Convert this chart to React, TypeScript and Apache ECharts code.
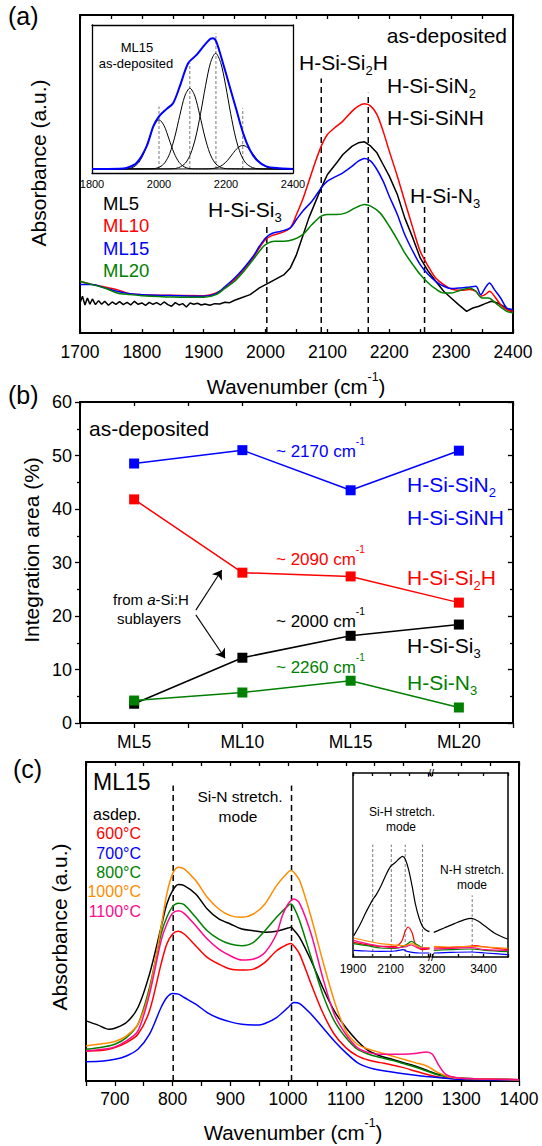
import React, { useEffect, useRef } from 'react';
import * as echarts from 'echarts';

const FONT = '"Liberation Sans", Arial, Helvetica, sans-serif';

// ---------------- Panel (a): as-deposited Si-H stretching spectra ----------------
const aML5: [number, number][] = [
  [1700, 0.90], [1704, 1.10], [1708, 0.84], [1712, 1.05], [1716, 0.86], [1720, 1.02], [1725, 0.85], [1730, 0.97],
  [1735, 0.86], [1740, 0.95], [1746, 0.83], [1752, 0.93], [1758, 0.86], [1764, 0.94], [1770, 0.85], [1776, 0.92],
  [1782, 0.84], [1788, 0.95], [1794, 0.86], [1800, 0.90], [1806, 0.83], [1812, 0.92], [1818, 0.86], [1824, 0.91],
  [1830, 0.84], [1836, 0.93], [1842, 0.85], [1848, 0.80], [1854, 0.91], [1860, 0.84], [1866, 0.88], [1872, 0.78],
  [1878, 0.90], [1884, 0.86], [1890, 0.89], [1896, 0.84], [1902, 0.87], [1910, 0.83], [1918, 0.88], [1926, 0.87],
  [1934, 0.92], [1942, 0.91], [1950, 0.98], [1960, 1.05], [1975, 1.15], [1990, 1.35], [2000, 1.45], [2015, 1.60],
  [2030, 1.75], [2040, 1.95], [2050, 2.35], [2060, 2.90], [2070, 3.45], [2080, 3.90], [2090, 4.35], [2100, 4.75],
  [2115, 5.10], [2125, 5.35], [2140, 5.60], [2150, 5.70], [2160, 5.73], [2170, 5.60], [2180, 5.40], [2190, 5.05],
  [2200, 4.70], [2213, 4.15], [2225, 3.45], [2238, 2.85], [2250, 2.25], [2263, 1.85], [2275, 1.55], [2288, 1.25],
  [2300, 1.05], [2312, 0.85], [2325, 0.65], [2335, 0.75], [2345, 0.80], [2355, 0.88], [2365, 0.95], [2375, 0.90],
  [2385, 0.80], [2393, 0.68], [2400, 0.63],
];
const aML10: [number, number][] = [
  [1700, 1.55], [1720, 1.45], [1740, 1.38], [1760, 1.30], [1780, 1.18], [1800, 1.15], [1850, 1.13], [1900, 1.12],
  [1920, 1.20], [1935, 1.35], [1950, 1.60], [1965, 1.90], [1980, 2.25], [1990, 2.55], [2000, 2.80], [2010, 2.92],
  [2025, 3.00], [2040, 3.15], [2050, 3.55], [2060, 4.00], [2070, 4.55], [2080, 5.10], [2090, 5.60], [2100, 5.95],
  [2115, 6.20], [2125, 6.35], [2140, 6.65], [2150, 6.80], [2160, 6.87], [2170, 6.80], [2180, 6.55], [2190, 6.05],
  [2200, 5.45], [2213, 4.70], [2225, 3.95], [2238, 3.15], [2250, 2.45], [2263, 2.00], [2275, 1.65], [2288, 1.45],
  [2300, 1.32], [2315, 1.28], [2330, 1.30], [2340, 1.25], [2347, 1.10], [2355, 1.15], [2362, 1.25], [2370, 1.10],
  [2380, 0.85], [2390, 0.70], [2400, 0.65],
];
const aML15: [number, number][] = [
  [1700, 1.45], [1720, 1.45], [1740, 1.35], [1760, 1.25], [1780, 1.18], [1800, 1.15], [1850, 1.12], [1900, 1.10],
  [1920, 1.18], [1935, 1.40], [1950, 1.65], [1965, 1.95], [1980, 2.30], [1990, 2.60], [2000, 2.85], [2010, 2.98],
  [2025, 3.05], [2040, 3.15], [2050, 3.40], [2060, 3.65], [2075, 3.95], [2090, 4.35], [2100, 4.55], [2115, 4.70],
  [2125, 4.80], [2140, 5.00], [2150, 5.15], [2160, 5.23], [2170, 5.15], [2180, 4.90], [2190, 4.55], [2200, 4.10],
  [2213, 3.55], [2225, 2.95], [2238, 2.45], [2250, 2.05], [2263, 1.75], [2275, 1.55], [2288, 1.40], [2300, 1.33],
  [2315, 1.35], [2330, 1.38], [2340, 1.40], [2348, 1.15], [2355, 1.35], [2362, 1.50], [2370, 1.30], [2380, 1.05],
  [2390, 0.75], [2400, 0.70],
];
const aML20: [number, number][] = [
  [1700, 1.55], [1720, 1.45], [1740, 1.35], [1760, 1.20], [1780, 1.15], [1800, 1.12], [1850, 1.08], [1900, 1.07],
  [1920, 1.15], [1935, 1.35], [1950, 1.55], [1965, 1.85], [1980, 2.20], [1990, 2.45], [2000, 2.65], [2015, 2.75],
  [2030, 2.75], [2045, 2.80], [2060, 2.95], [2075, 3.25], [2090, 3.50], [2100, 3.55], [2115, 3.55], [2130, 3.60],
  [2145, 3.75], [2160, 3.85], [2170, 3.80], [2185, 3.60], [2200, 3.20], [2213, 2.80], [2225, 2.40], [2238, 2.05],
  [2250, 1.75], [2263, 1.50], [2275, 1.32], [2288, 1.20], [2300, 1.20], [2315, 1.28], [2330, 1.35], [2340, 1.25],
  [2350, 1.05], [2360, 1.05], [2375, 0.85], [2390, 0.65], [2400, 0.60],
];
const aPeakPos = [2002, 2090, 2166, 2257];
const aPeakTop = [3.27, 7.63, 7.2, 3.85];

// Inset of (a): ML15 fit
const iaTotal: [number, number][] = [
  [1800, 0], [1880, 0.02], [1903, 0.1], [1933, 0.6], [1963, 2.27], [1983, 4.27], [2000, 5.27], [2022, 6.0],
  [2042, 6.6], [2062, 8.27], [2087, 10.6], [2112, 11.43], [2132, 12.27], [2152, 13.0], [2161, 13.1], [2171, 12.77],
  [2191, 10.6], [2211, 8.27], [2231, 5.93], [2251, 3.6], [2271, 1.93], [2291, 0.93], [2320, 0.27], [2360, 0.07], [2400, 0],
];
const iaG1: [number, number][] = [
  [1800, 0], [1890, 0.01], [1910, 0.05], [1925, 0.22], [1940, 0.67], [1955, 1.60], [1970, 2.99], [1985, 4.35],
  [2000, 4.93], [2015, 4.35], [2030, 2.99], [2045, 1.60], [2060, 0.67], [2075, 0.22], [2090, 0.05], [2110, 0.01], [2400, 0],
];
const iaG2: [number, number][] = [
  [1800, 0], [1982, 0.03], [2002, 0.20], [2017, 0.61], [2032, 1.55], [2047, 3.20], [2062, 5.36], [2077, 7.31],
  [2092, 8.10], [2107, 7.31], [2122, 5.36], [2137, 3.20], [2152, 1.55], [2167, 0.61], [2182, 0.20], [2202, 0.03], [2400, 0],
];
const iaG3: [number, number][] = [
  [1800, 0], [2039, 0.02], [2059, 0.14], [2079, 0.60], [2094, 1.49], [2109, 3.11], [2124, 5.54], [2139, 8.35],
  [2154, 10.68], [2169, 11.6], [2184, 10.68], [2199, 8.35], [2214, 5.54], [2229, 3.11], [2244, 1.49], [2259, 0.60],
  [2279, 0.14], [2299, 0.02], [2400, 0],
];
const iaG4: [number, number][] = [
  [1800, 0], [2140, 0.01], [2160, 0.05], [2175, 0.15], [2190, 0.41], [2205, 0.88], [2220, 1.53], [2235, 2.12],
  [2250, 2.37], [2265, 2.12], [2280, 1.53], [2295, 0.88], [2310, 0.41], [2325, 0.15], [2340, 0.05], [2360, 0.01], [2400, 0],
];
const iaPeakPos = [2000, 2092, 2170, 2250];
const iaPeakTop = [6.27, 10.6, 13.6, 6.07];

// ---------------- Panel (b): integration areas ----------------
const bCats = ['ML5', 'ML10', 'ML15', 'ML20'];
const bPos = [1, 2, 3, 4];
const b2170 = [48.5, 51.0, 43.5, 50.9];
const b2090 = [41.8, 28.1, 27.4, 22.5];
const b2000 = [3.6, 12.2, 16.3, 18.4];
const b2260 = [4.2, 5.7, 7.9, 2.9];
const bArrowFrom = [[1.57, 21.1], [1.57, 20.2]];
const bArrowTo = [[1.81, 28.6], [1.84, 12.1]];

// ---------------- Panel (c): ML15 annealed, Si-N stretching ----------------
const cAsdep: [number, number][] = [
  [650, 1.80], [670, 1.68], [690, 1.55], [700, 1.58], [720, 1.75], [740, 2.20], [760, 3.20], [780, 4.60], [790, 5.30],
  [800, 5.70], [810, 5.88], [820, 5.85], [840, 5.60], [860, 5.15], [880, 4.85], [900, 4.70], [920, 4.55], [940, 4.50],
  [960, 4.45], [980, 4.48], [1000, 4.58], [1005, 4.60], [1010, 4.52], [1020, 4.30], [1040, 3.60], [1060, 2.80],
  [1080, 2.10], [1100, 1.60], [1120, 1.20], [1140, 0.90], [1160, 0.75], [1180, 0.65], [1200, 0.55], [1220, 0.45],
  [1240, 0.32], [1260, 0.20], [1280, 0.12], [1300, 0.08], [1350, 0.05], [1400, 0.04],
];
const c600: [number, number][] = [
  [650, 0.90], [680, 0.92], [700, 1.00], [720, 1.15], [740, 1.40], [760, 2.10], [780, 3.50], [790, 4.10], [800, 4.40],
  [810, 4.48], [820, 4.40], [840, 4.05], [860, 3.70], [880, 3.50], [900, 3.35], [920, 3.32], [940, 3.35], [960, 3.55],
  [980, 3.90], [1000, 4.10], [1005, 4.12], [1010, 4.05], [1020, 3.80], [1040, 2.90], [1060, 2.05], [1080, 1.40],
  [1100, 1.00], [1120, 0.75], [1140, 0.62], [1160, 0.55], [1180, 0.48], [1200, 0.40], [1220, 0.30], [1240, 0.20],
  [1260, 0.12], [1280, 0.08], [1300, 0.06], [1400, 0.04],
];
const c700: [number, number][] = [
  [650, 0.58], [680, 0.60], [700, 0.65], [720, 0.75], [740, 0.95], [760, 1.40], [780, 2.20], [790, 2.50], [800, 2.62],
  [810, 2.60], [820, 2.50], [840, 2.30], [860, 2.05], [880, 1.88], [900, 1.77], [920, 1.70], [940, 1.68], [950, 1.68],
  [960, 1.72], [980, 1.90], [1000, 2.20], [1010, 2.35], [1020, 2.32], [1040, 2.00], [1060, 1.60], [1080, 1.20],
  [1100, 0.85], [1120, 0.55], [1140, 0.40], [1160, 0.32], [1200, 0.22], [1250, 0.12], [1300, 0.05], [1400, 0.03],
];
const c800: [number, number][] = [
  [650, 0.95], [680, 1.02], [700, 1.10], [720, 1.30], [740, 1.70], [760, 2.80], [780, 4.40], [790, 4.90], [800, 5.22],
  [810, 5.32], [820, 5.28], [840, 4.90], [860, 4.50], [880, 4.25], [900, 4.10], [920, 4.05], [940, 4.15], [960, 4.50],
  [980, 4.90], [1000, 5.25], [1005, 5.30], [1010, 5.20], [1020, 4.80], [1040, 3.70], [1060, 2.60], [1080, 1.80],
  [1100, 1.30], [1120, 0.95], [1140, 0.80], [1160, 0.70], [1180, 0.62], [1200, 0.52], [1220, 0.42], [1240, 0.30],
  [1260, 0.18], [1280, 0.12], [1300, 0.08], [1400, 0.04],
];
const c1000: [number, number][] = [
  [650, 1.05], [680, 1.12], [700, 1.18], [720, 1.35], [740, 1.70], [760, 2.70], [780, 4.60], [790, 5.60], [800, 6.20],
  [810, 6.40], [820, 6.35], [840, 6.00], [860, 5.50], [880, 5.15], [900, 4.95], [920, 4.90], [940, 5.00], [960, 5.30],
  [980, 5.85], [1000, 6.25], [1005, 6.30], [1010, 6.25], [1020, 6.00], [1040, 4.90], [1060, 3.60], [1080, 2.40],
  [1100, 1.50], [1120, 1.10], [1140, 0.95], [1160, 0.85], [1180, 0.75], [1200, 0.65], [1220, 0.55], [1240, 0.45],
  [1260, 0.25], [1280, 0.12], [1300, 0.08], [1400, 0.04],
];
const c1100: [number, number][] = [
  [650, 0.90], [680, 0.95], [700, 1.02], [720, 1.20], [740, 1.50], [760, 2.60], [780, 4.20], [790, 4.70], [800, 5.02],
  [810, 5.10], [820, 5.02], [840, 4.65], [860, 4.25], [880, 3.95], [900, 3.75], [920, 3.62], [940, 3.65], [960, 3.85],
  [980, 4.40], [990, 4.95], [1000, 5.30], [1010, 5.45], [1020, 5.32], [1040, 4.40], [1060, 3.10], [1080, 2.00],
  [1100, 1.40], [1120, 1.00], [1140, 0.85], [1160, 0.80], [1180, 0.80], [1200, 0.80], [1220, 0.82], [1240, 0.87],
  [1250, 0.80], [1260, 0.50], [1270, 0.25], [1280, 0.14], [1300, 0.08], [1400, 0.04],
];
const cPeakPos = [801, 1006];
const cPeakTop = [8.85, 8.85];

// Inset of (c): Si-H (left) and N-H (right) stretching
const icL = {
  asdep: [[1904, 0.64], [1937, 0.97], [1967, 1.32], [1995, 1.62], [2005, 1.72], [2024, 1.87], [2048, 2.12], [2076, 2.47],
    [2100, 2.72], [2122, 2.82], [2150, 2.97], [2163, 3.02], [2178, 2.94], [2196, 2.62], [2215, 2.12], [2233, 1.57],
    [2252, 1.17], [2270, 0.92], [2290, 0.80], [2307, 0.76]],
  t600: [[1904, 0.44], [1974, 0.37], [2048, 0.32], [2122, 0.32], [2159, 0.47], [2178, 0.77], [2193, 0.90], [2215, 0.72],
    [2233, 0.37], [2270, 0.22], [2307, 0.24]],
  t700: [[1904, 0.20], [1974, 0.18], [2048, 0.17], [2122, 0.18], [2168, 0.22], [2187, 0.17], [2252, 0.12], [2307, 0.12]],
  t800: [[1904, 0.40], [1974, 0.34], [2048, 0.27], [2122, 0.26], [2178, 0.34], [2211, 0.47], [2233, 0.40], [2270, 0.28], [2307, 0.26]],
  t1000: [[1904, 0.57], [1974, 0.48], [2048, 0.40], [2122, 0.36], [2178, 0.34], [2215, 0.40], [2252, 0.30], [2307, 0.28]],
  t1100: [[1904, 0.50], [1974, 0.40], [2048, 0.32], [2122, 0.28], [2178, 0.30], [2211, 0.36], [2252, 0.26], [2307, 0.26]],
};
const icR = {
  asdep: [[3207, 0.74], [3247, 0.87], [3287, 1.00], [3327, 1.12], [3353, 1.16], [3380, 1.07], [3407, 0.92], [3447, 0.70], [3493, 0.54]],
  t600: [[3207, 0.27], [3273, 0.29], [3340, 0.32], [3367, 0.34], [3407, 0.30], [3493, 0.22]],
  t700: [[3207, 0.12], [3273, 0.14], [3353, 0.15], [3407, 0.12], [3493, 0.07]],
  t800: [[3207, 0.20], [3273, 0.22], [3353, 0.24], [3407, 0.20], [3493, 0.16]],
  t1000: [[3207, 0.32], [3273, 0.30], [3353, 0.32], [3407, 0.30], [3493, 0.26]],
  t1100: [[3207, 0.24], [3273, 0.26], [3353, 0.28], [3407, 0.22], [3493, 0.20]],
};
const icLPeakPos = [2005, 2104, 2178, 2270];
const icLPeakTop = 3.37;
const icRPeakPos = [3356];
const icRPeakTop = 1.85;

const COL = {
  black: '#000000', red: '#ff0000', blue: '#0000ff', green: '#008000', orange: '#ff8c00', magenta: '#ff0a8c',
};

// ---------------- helpers ----------------
function axisCommon(o: any) {
  return {
    axisLine: { show: true, onZero: false, lineStyle: { color: '#000', width: o.lw ?? 2 } },
    axisTick: { show: !!o.tick, inside: o.inside ?? true, length: o.tl ?? 4, lineStyle: { color: '#000', width: 1.3 } },
    minorTick: { show: !!o.minor, splitNumber: 2, length: o.ml ?? 3, lineStyle: { color: '#000', width: 1.3 } },
    axisLabel: o.fmt
      ? { show: true, formatter: o.fmt, fontSize: o.fs ?? 17.5, color: '#000', fontFamily: FONT, margin: o.margin ?? 8 }
      : { show: false },
    splitLine: { show: false },
  };
}
function xA(grid: number, min: number, max: number, interval: number, position: string, o: any = {}) {
  return { type: 'value', gridIndex: grid, min, max, interval, position, ...axisCommon(o) };
}
function yA(grid: number, min: number, max: number, interval: number, position: string, o: any = {}) {
  return { type: 'value', gridIndex: grid, min, max, interval, position, ...axisCommon(o) };
}
function line(data: any[], xi: number, yi: number, color: string, width = 1.5, extra: any = {}) {
  return {
    type: 'line', xAxisIndex: xi, yAxisIndex: yi, data, symbol: 'none', silent: true, smooth: 0.3,
    lineStyle: { color, width }, ...extra,
  };
}
function dashes(pos: number[], tops: number[] | number, xi: number, yi: number, color: string, width: number, dash: number[]) {
  return pos.map((p, i) => ({
    type: 'line', xAxisIndex: xi, yAxisIndex: yi, symbol: 'none', silent: true,
    data: [[p, 0], [p, Array.isArray(tops) ? tops[i] : tops]],
    lineStyle: { color, width, type: dash },
  }));
}
function rich(fs: number) {
  return {
    sub: { fontSize: fs * 0.62, lineHeight: Math.max(2, 30 - 1.04 * fs), verticalAlign: 'bottom', fontFamily: FONT },
    sup: { fontSize: fs * 0.6, lineHeight: 28 - 0.72 * fs, verticalAlign: 'top', fontFamily: FONT },
    it: { fontSize: fs, fontStyle: 'italic', lineHeight: 30, fontFamily: FONT },
  };
}
function T(text: string, x: number, y: number, fs: number, fill = '#000', align = 'left', extra: any = {}) {
  return {
    type: 'text', x, y, z: 100, silent: true, ...extra,
    style: { text, fontSize: fs, fontFamily: FONT, fill, align, verticalAlign: 'middle', lineHeight: 30, rich: rich(fs) },
  };
}

const fmt100 = (v: number) => (v % 100 === 0 ? String(v) : '');

const option: any = {
  animation: false,
  backgroundColor: '#ffffff',
  grid: [
    { left: 80, top: 15, width: 433, height: 318 },
    { left: 92, top: 25, width: 201, height: 148 },
    { left: 80, top: 402, width: 433, height: 321 },
    { left: 86, top: 762, width: 433, height: 319 },
    { left: 353, top: 773, width: 77, height: 184 },
    { left: 432, top: 773, width: 76, height: 184 },
  ],
  xAxis: [
    xA(0, 1700, 2400, 50, 'bottom', { tick: true, inside: true, tl: 4, fmt: fmt100, margin: 10 }),
    xA(0, 1700, 2400, 50, 'top', { tick: true, inside: true, tl: 4 }),
    xA(1, 1800, 2400, 200, 'bottom', { lw: 1.3, fmt: (v: number) => String(v), fs: 11, margin: 5 }),
    xA(1, 1800, 2400, 200, 'top', { lw: 1.3 }),
    xA(2, 0.5, 4.5, 0.5, 'bottom', {
      tick: true, inside: false, tl: 5, margin: 10,
      fmt: (v: number) => (bPos.indexOf(v) >= 0 ? bCats[bPos.indexOf(v)] : ''),
    }),
    xA(2, 0.5, 4.5, 0.5, 'top', { tick: true, inside: true, tl: 4 }),
    xA(3, 650, 1400, 50, 'bottom', { tick: true, inside: false, tl: 5, fmt: fmt100, margin: 9 }),
    xA(3, 650, 1400, 50, 'top', { tick: true, inside: true, tl: 4 }),
    xA(4, 1900, 2310, 100, 'bottom', {
      lw: 1.5, tick: true, inside: true, tl: 3, fs: 12, margin: 6,
      fmt: (v: number) => (v === 1900 || v === 2100 ? String(v) : ''),
    }),
    xA(4, 1900, 2310, 100, 'top', { lw: 1.5, tick: true, inside: true, tl: 3 }),
    xA(5, 3200, 3495, 100, 'bottom', {
      lw: 1.5, tick: true, inside: true, tl: 3, fs: 12, margin: 6,
      fmt: (v: number) => (v === 3200 || v === 3400 ? String(v) : ''),
    }),
    xA(5, 3200, 3495, 100, 'top', { lw: 1.5, tick: true, inside: true, tl: 3 }),
  ],
  yAxis: [
    yA(0, 0, 9.53, 1, 'left'),
    yA(0, 0, 9.53, 1, 'right'),
    yA(1, -0.4, 14.43, 1, 'left', { lw: 1.3 }),
    yA(1, -0.4, 14.43, 1, 'right', { lw: 1.3 }),
    yA(2, 0, 60, 10, 'left', { tick: true, inside: false, tl: 5, minor: true, ml: 3, fmt: (v: number) => String(v), margin: 8, fs: 18 }),
    yA(2, 0, 60, 10, 'right', { tick: true, inside: true, tl: 5, minor: true, ml: 3 }),
    yA(3, 0, 9.55, 1, 'left'),
    yA(3, 0, 9.55, 1, 'right'),
    yA(4, 0, 5.52, 1, 'left', { lw: 1.5 }),
    yA(5, 0, 5.52, 1, 'right', { lw: 1.5 }),
  ],
  series: [
    // panel (a)
    ...dashes(aPeakPos, aPeakTop, 0, 0, '#000', 1.5, [6, 4]),
    line(aML5, 0, 0, COL.black, 1.5, { smooth: false }),
    line(aML10, 0, 0, COL.red),
    line(aML15, 0, 0, COL.blue),
    line(aML20, 0, 0, COL.green),
    // inset (a)
    ...dashes(iaPeakPos, iaPeakTop, 2, 2, '#555', 0.8, [3, 2]),
    line(iaG1, 2, 2, '#000', 1),
    line(iaG2, 2, 2, '#000', 1),
    line(iaG3, 2, 2, '#000', 1),
    line(iaG4, 2, 2, '#000', 1),
    line(iaTotal, 2, 2, COL.blue, 2),
    // panel (b)
    ...[
      [b2170, COL.blue], [b2090, COL.red], [b2000, COL.black], [b2260, COL.green],
    ].map(([vals, color]: any, k) => ({
      type: 'line', xAxisIndex: 4, yAxisIndex: 4, silent: true,
      data: bPos.map((p, i) => [p, vals[i]]),
      symbol: 'rect', symbolSize: 10,
      lineStyle: { color, width: 1.5 }, itemStyle: { color },
      markLine: k === 2 ? {
        silent: true, symbol: ['none', 'arrow'], symbolSize: 9, animation: false,
        label: { show: false }, lineStyle: { color: '#000', width: 1.1, type: 'solid' },
        data: bArrowFrom.map((f, i) => [{ coord: f }, { coord: bArrowTo[i] }]),
      } : undefined,
    })),
    // panel (c)
    ...dashes(cPeakPos, cPeakTop, 6, 6, '#000', 1.5, [6, 4]),
    line(cAsdep, 6, 6, COL.black),
    line(c600, 6, 6, COL.red),
    line(c700, 6, 6, COL.blue),
    line(c800, 6, 6, COL.green),
    line(c1000, 6, 6, COL.orange),
    line(c1100, 6, 6, COL.magenta),
    // inset (c)
    ...dashes(icLPeakPos, icLPeakTop, 8, 8, '#555', 0.8, [3, 2]),
    ...dashes(icRPeakPos, icRPeakTop, 10, 9, '#555', 0.8, [3, 2]),
    line(icL.asdep, 8, 8, COL.black, 1.2),
    line(icL.t600, 8, 8, COL.red, 1.2),
    line(icL.t700, 8, 8, COL.blue, 1.2),
    line(icL.t800, 8, 8, COL.green, 1.2),
    line(icL.t1000, 8, 8, COL.orange, 1.2),
    line(icL.t1100, 8, 8, COL.magenta, 1.2),
    line(icR.asdep, 10, 9, COL.black, 1.2),
    line(icR.t600, 10, 9, COL.red, 1.2),
    line(icR.t700, 10, 9, COL.blue, 1.2),
    line(icR.t800, 10, 9, COL.green, 1.2),
    line(icR.t1000, 10, 9, COL.orange, 1.2),
    line(icR.t1100, 10, 9, COL.magenta, 1.2),
  ],
  graphic: [
    // panel letters
    T('(a)', 8, 16, 25),
    T('(b)', 8, 395, 25),
    T('(c)', 13, 769, 25),
    // panel (a)
    T('Absorbance (a.u.)', 38, 163, 21, '#000', 'center', { rotation: Math.PI / 2 }),
    T('Wavenumber (cm{sup|-1})', 296, 386, 20.5, '#000', 'center'),
    T('as-deposited', 507, 35, 21, '#000', 'right'),
    T('H-Si-Si{sub|2}H', 299, 62, 21),
    T('H-Si-SiN{sub|2}', 387, 85, 21),
    T('H-Si-SiNH', 387, 117, 21),
    T('H-Si-N{sub|3}', 410, 195, 21),
    T('H-Si-Si{sub|3}', 208, 209, 21),
    T('ML5', 103, 203, 18.5, COL.black),
    T('ML10', 103, 225, 18.5, COL.red),
    T('ML15', 103, 248, 18.5, COL.blue),
    T('ML20', 103, 270, 18.5, COL.green),
    T('ML15', 137, 47, 13, '#000', 'center'),
    T('as-deposited', 136, 63, 13, '#000', 'center'),
    // panel (b)
    T('Integration area (%)', 31, 550, 21, '#000', 'center', { rotation: Math.PI / 2 }),
    T('as-deposited', 89, 428, 21),
    T('~ 2170 cm{sup|-1}', 276, 451, 17, COL.blue),
    T('H-Si-SiN{sub|2}', 407, 484, 21, COL.blue),
    T('H-Si-SiNH', 407, 517, 21, COL.blue),
    T('~ 2090 cm{sup|-1}', 276, 559, 17, COL.red),
    T('H-Si-Si{sub|2}H', 407, 577, 21, COL.red),
    T('~ 2000 cm{sup|-1}', 276, 621, 17, COL.black),
    T('H-Si-Si{sub|3}', 407, 645, 21, COL.black),
    T('~ 2260 cm{sup|-1}', 276, 667, 17, COL.green),
    T('H-Si-N{sub|3}', 407, 682, 21, COL.green),
    T('from {it|a}-Si:H', 151, 599, 15, '#000', 'center'),
    T('sublayers', 149, 618, 15, '#000', 'center'),
    // panel (c)
    T('Absorbance (a.u.)', 59, 927, 21, '#000', 'center', { rotation: Math.PI / 2 }),
    T('Wavenumber (cm{sup|-1})', 293, 1132, 20.5, '#000', 'center'),
    T('ML15', 93, 782, 23),
    T('asdep.', 93, 814, 16, COL.black),
    T('600°C', 141, 833, 16, COL.red, 'right'),
    T('700°C', 141, 853, 16, COL.blue, 'right'),
    T('800°C', 141, 872, 16, COL.green, 'right'),
    T('1000°C', 141, 891, 16, COL.orange, 'right'),
    T('1100°C', 141, 911, 16, COL.magenta, 'right'),
    T('Si-N stretch.', 240, 796, 15.5, '#000', 'center'),
    T('mode', 238, 816, 15.5, '#000', 'center'),
    T('Si-H stretch.', 402, 812, 12, '#000', 'center'),
    T('mode', 401, 827, 12, '#000', 'center'),
    T('N-H stretch.', 472, 870, 12, '#000', 'center'),
    T('mode', 472, 885, 12, '#000', 'center'),
    T('//', 431, 773, 11, '#000', 'center'),
    T('//', 431, 957, 11, '#000', 'center'),
  ],
};

export default function App() {
  const ref = useRef<HTMLDivElement>(null);
  useEffect(() => {
    if (!ref.current) return;
    const chart = echarts.init(ref.current, null, { renderer: 'svg', width: 542, height: 1146 });
    chart.setOption(option);
    return () => chart.dispose();
  }, []);
  return (
    <div
      ref={ref}
      style={{ position: 'absolute', left: 0, top: 0, width: 542, height: 1146, background: '#fff' }}
    />
  );
}
